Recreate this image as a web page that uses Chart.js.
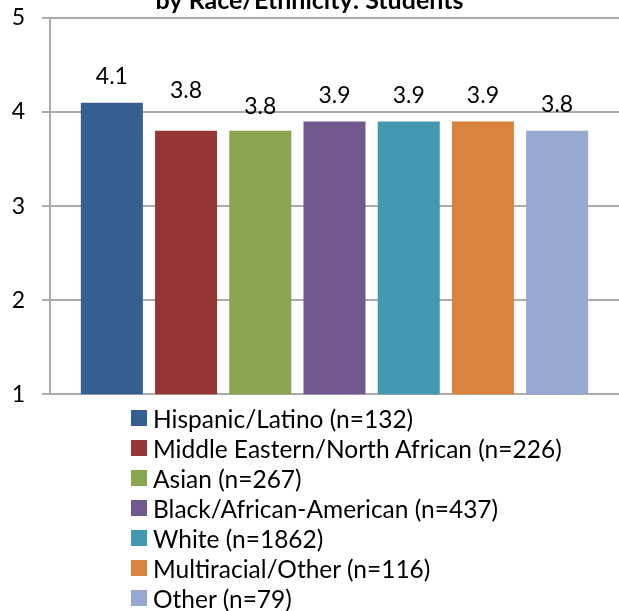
<!DOCTYPE html>
<html>
<head>
<meta charset="utf-8">
<script src="https://cdn.jsdelivr.net/npm/chart.js@4.4.1/dist/chart.umd.min.js"></script>
<style>
  html, body { margin: 0; padding: 0; background: #fff; width: 619px; height: 611px; overflow: hidden; }
  #wrap { position: absolute; left: 0; top: -14px; width: 619px; height: 439px; }
  #legend { position: absolute; left: 131px; top: 403px; font-family: Lato, "Noto Sans", sans-serif; font-size: 24.5px; color: #000; }
  .row { display: flex; align-items: center; height: 30px; white-space: nowrap; }
  .sw { width: 16px; height: 16px; margin-right: 6px; flex: none; }
</style>
</head>
<body>
<div id="wrap"><canvas id="c" width="619" height="439"></canvas></div>
<div id="legend"></div>
<script>
const titleText = 'by Race/Ethnicity: Students';
const categories = ['Students'];
const groups = [
  'Hispanic/Latino (n=132)',
  'Middle Eastern/North African (n=226)',
  'Asian (n=267)',
  'Black/African-American (n=437)',
  'White (n=1862)',
  'Multiracial/Other (n=116)',
  'Other (n=79)'
];
const values = [4.1, 3.8, 3.8, 3.9, 3.9, 3.9, 3.8];
const yTicks = [1, 2, 3, 4, 5];

const colors = ['#365F91', '#953735', '#8AA64F', '#71588F', '#4298B0', '#DA833E', '#95A9D1'];
const labelLift = [26, 40, 24, 26, 26, 26, 26];

const datasets = groups.map((g, i) => ({
  label: g,
  data: [values[i]],
  backgroundColor: colors[i],
  borderWidth: 0,
  categoryPercentage: 0.913,
  barPercentage: 0.836
}));

const valueLabels = {
  id: 'valueLabels',
  afterDatasetsDraw(chart) {
    const ctx = chart.ctx;
    ctx.save();
    ctx.font = '23px Lato, "Noto Sans", sans-serif';
    ctx.fillStyle = '#000';
    ctx.textAlign = 'center';
    ctx.textBaseline = 'middle';
    chart.data.datasets.forEach((ds, i) => {
      const meta = chart.getDatasetMeta(i);
      meta.data.forEach((bar, j) => {
        ctx.fillText(ds.data[j].toFixed(1), bar.x, bar.y - labelLift[i]);
      });
    });
    ctx.restore();
  }
};

const gridColor = '#ababab';

new Chart(document.getElementById('c'), {
  type: 'bar',
  data: { labels: categories, datasets },
  options: {
    responsive: false,
    devicePixelRatio: 1,
    animation: false,
    layout: { padding: { left: 0, right: 0, top: 0, bottom: 13 } },
    plugins: {
      legend: { display: false },
      tooltip: { enabled: false },
      title: {
        display: true,
        text: titleText,
        color: '#000',
        font: { family: 'Lato, "Noto Sans", sans-serif', size: 25, weight: 'bold', lineHeight: 1.2 },
        padding: { top: 0, bottom: 2 }
      }
    },
    scales: {
      x: { display: false },
      y: {
        min: yTicks[0],
        max: yTicks[yTicks.length - 1],
        afterBuildTicks(scale) { scale.ticks = yTicks.map(v => ({ value: v })); },
        afterFit(scale) { scale.width = 50; },
        grid: { color: gridColor, lineWidth: 2, drawTicks: true, tickLength: 8, tickColor: gridColor },
        border: { display: true, color: gridColor, width: 2 },
        ticks: {
          padding: 17,
          color: '#000',
          font: { family: 'Lato, "Noto Sans", sans-serif', size: 23 }
        }
      }
    }
  },
  plugins: [valueLabels]
});

const legendEl = document.getElementById('legend');
groups.forEach((g, i) => {
  const row = document.createElement('div');
  row.className = 'row';
  const sw = document.createElement('span');
  sw.className = 'sw';
  sw.style.background = colors[i];
  const tx = document.createElement('span');
  tx.textContent = g;
  row.appendChild(sw);
  row.appendChild(tx);
  legendEl.appendChild(row);
});
</script>
</body>
</html>
